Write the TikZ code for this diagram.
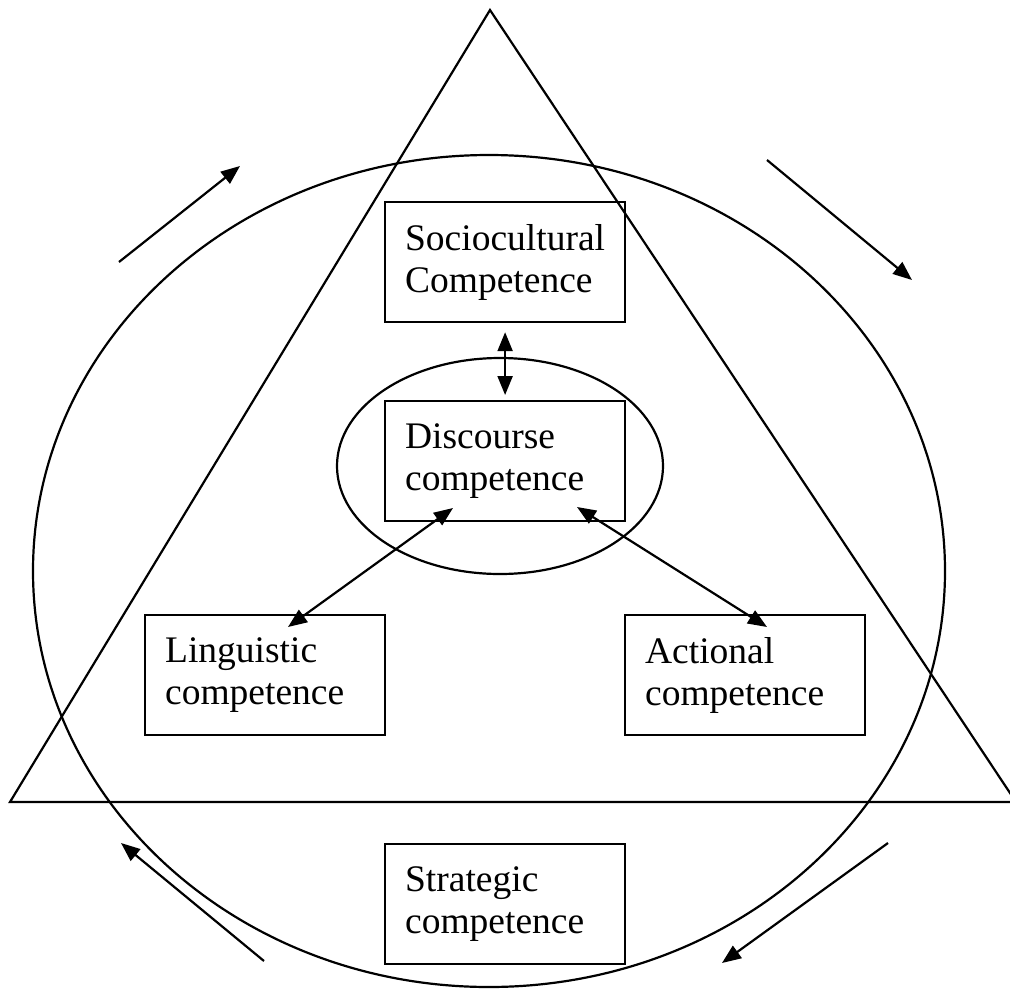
\documentclass[tikz,border=0pt]{standalone}
\usepackage{fontspec}
\setmainfont{Liberation Serif}
\usetikzlibrary{arrows.meta,shapes.geometric}
\begin{document}
\begin{tikzpicture}[x=1pt,y=-1pt,
  ln/.style={line width=2.2pt},
  box/.style={draw,line width=2.2pt,rectangle,minimum width=240pt,minimum height=120pt,
    text width=200pt,inner xsep=20pt,inner ysep=0pt,align=left,anchor=north west,
    font=\fontsize{37.5}{42}\selectfont},
  arr/.style={line width=2.2pt,-{Triangle[length=19pt,width=15pt]}},
  darr/.style={line width=2.2pt,{Triangle[length=19pt,width=15pt]}-{Triangle[length=19pt,width=15pt]}}]
\clip (0,0) rectangle (1010,994);
\useasboundingbox (0,0) rectangle (1010,994);
% outer shapes
\draw[ln] (490,10) -- (10,802) -- (1016,802) -- cycle;
\node[draw,ellipse,line width=2.2pt,minimum width=912pt,minimum height=832pt,inner sep=0pt] (big) at (489,571) {};
\node[draw,ellipse,line width=2.2pt,minimum width=326pt,minimum height=216pt,inner sep=0pt] (small) at (500,466) {};
% boxes
\node[box] (soc) at (384,201) {Sociocultural\\Competence};
\node[box] (dis) at (384,400) {Discourse\\competence};
\node[box] (lin) at (144,614) {Linguistic\\competence};
\node[box] (act) at (624,614) {Actional\\competence};
\node[box] (str) at (384,843) {Strategic\\competence};
% connectors
\coordinate (d1) at (453,508);
\coordinate (l1) at (288,627);
\coordinate (d2) at (577,507);
\coordinate (a1) at (767,627);
\draw[darr] ([yshift=-9pt]soc.south) -- ([yshift=5pt]dis.north);
\draw[darr] (d1) -- (l1);
\draw[darr] (d2) -- (a1);
% circulation arrows
\coordinate (t1a) at (119,262); \coordinate (t1b) at (240,166);
\coordinate (t2a) at (767,160); \coordinate (t2b) at (912,280);
\coordinate (t3a) at (888,843); \coordinate (t3b) at (722,963);
\coordinate (t4a) at (264,961); \coordinate (t4b) at (121,843);
\draw[arr] (t1a) -- (t1b);
\draw[arr] (t2a) -- (t2b);
\draw[arr] (t3a) -- (t3b);
\draw[arr] (t4a) -- (t4b);
\end{tikzpicture}
\end{document}
